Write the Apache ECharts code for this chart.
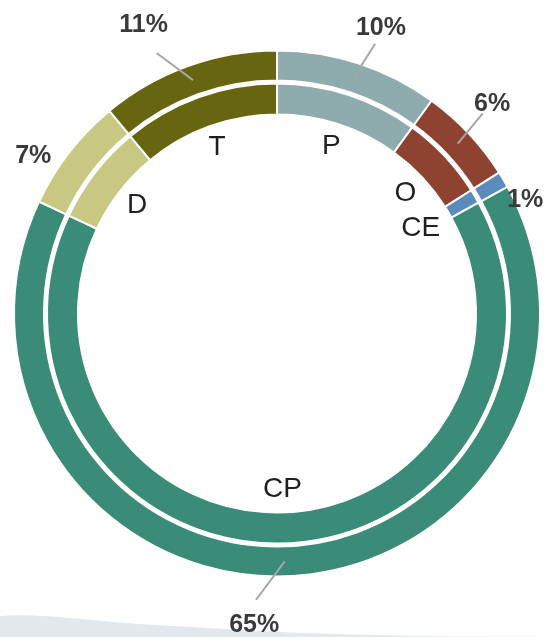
<!DOCTYPE html>
<html><head><meta charset="utf-8">
<script src="https://cdn.jsdelivr.net/npm/echarts@6/dist/echarts.min.js"></script>
<style>html,body{margin:0;padding:0;background:#fff}#c{width:550px;height:637px}</style>
</head><body><div id="c"></div>
<script>
// ---- data ----
const categories = ['P', 'O', 'CE', 'CP', 'D', 'T'];
const values = [10, 6, 1, 65, 7, 11];
const percentLabels = ['10%', '6%', '1%', '65%', '7%', '11%'];
const colors = ['#8eabae', '#8e4230', '#5b8bbd', '#3a8c78', '#c8c883', '#666510'];
const showLeader = [true, true, false, true, false, true];

// ---- layout ----
const CX = 277, CY = 313.5;
const labelAngleNudge = [2, -1, 6, 6, -5, -5];   // degrees
const labelRadius = [304, 300, 273, 312, 290, 318];
const innerLabelRadius = [176, 176, 167, 176, 177, 177];
const total = values.reduce((a, b) => a + b, 0);
function midAngle(i) { let c = 0; for (let k = 0; k < i; k++) c += values[k]; return (c + values[i] / 2) / total * 2 * Math.PI; }
function pt(a, r) { return [CX + r * Math.sin(a), CY - r * Math.cos(a)]; }

const chart = echarts.init(document.getElementById('c'), null, { renderer: 'canvas' });

const ringData = categories.map((n, i) => ({ name: n, value: values[i], itemStyle: { color: colors[i] } }));
const labelData = categories.map((n, i) => ({
  name: n, value: values[i],
  labelLine: { show: showLeader[i] }
}));

chart.setOption({
  backgroundColor: '#ffffff',
  animation: false,
  graphic: [{
    type: 'polygon', z: -10, silent: true,
    shape: { points: [[0, 616], [140, 624], [280, 632], [420, 636], [550, 637], [0, 637]], smooth: 0.3 },
    style: { fill: '#e1e9ec' }
  }],
  series: [
    {
      type: 'pie', center: [CX, CY], radius: [233, 263], startAngle: 90, clockwise: true,
      silent: true, data: ringData, avoidLabelOverlap: false,
      itemStyle: { borderColor: '#ffffff', borderWidth: 2 },
      label: { show: false }, labelLine: { show: false }
    },
    {
      type: 'pie', center: [CX, CY], radius: [199, 230], startAngle: 90, clockwise: true,
      silent: true, data: ringData, avoidLabelOverlap: false,
      itemStyle: { borderColor: '#ffffff', borderWidth: 2 },
      label: {
        show: true, position: 'outside', formatter: '{b}', overflow: 'none',
        fontFamily: 'Liberation Sans, Arial, sans-serif', fontSize: 28, color: '#1f1f1f'
      },
      labelLine: { show: false },
      labelLayout: function (p) {
        const i = p.dataIndex;
        const xy = pt(midAngle(i), innerLabelRadius[i]);
        return { x: xy[0], y: xy[1], align: 'center', verticalAlign: 'middle', hideOverlap: false };
      }
    },
    {
      type: 'pie', center: [CX, CY], radius: [233, 263], startAngle: 90, clockwise: true, z: 5,
      silent: true, data: labelData, avoidLabelOverlap: false,
      itemStyle: { color: 'rgba(0,0,0,0)' },
      label: {
        show: true, position: 'outside', overflow: 'none',
        formatter: p => percentLabels[p.dataIndex],
        fontFamily: 'Liberation Sans, Arial, sans-serif', fontSize: 25, fontWeight: 'bold', color: '#3a3a3a'
      },
      labelLine: { show: true, lineStyle: { color: '#a6a6a6', width: 2 } },
      labelLayout: function (p) {
        const i = p.dataIndex;
        const a = midAngle(i);
        const at = a + labelAngleNudge[i] * Math.PI / 180;
        const xy = pt(at, labelRadius[i]);
        const s = pt(a, 248);
        const e = pt(at, 287);
        return {
          x: xy[0], y: xy[1], align: 'center', verticalAlign: 'middle', hideOverlap: false,
          labelLinePoints: [s, e, e]
        };
      }
    }
  ]
});
</script>
</body></html>
